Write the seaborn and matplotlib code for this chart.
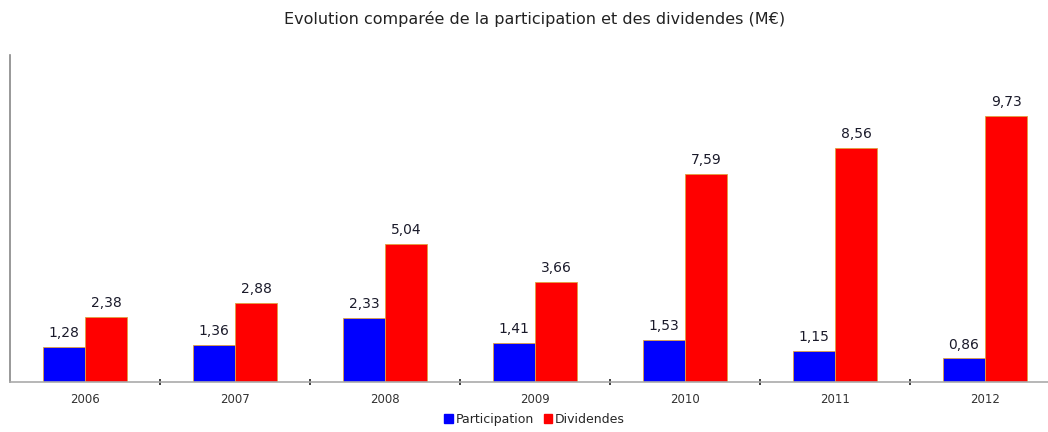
import pandas as pd
import seaborn as sns
import matplotlib.pyplot as plt
from matplotlib.ticker import FixedLocator

# données (M€)
annees = ["2006", "2007", "2008", "2009", "2010", "2011", "2012"]
participation = [1.28, 1.36, 2.33, 1.41, 1.53, 1.15, 0.86]
dividendes = [2.38, 2.88, 5.04, 3.66, 7.59, 8.56, 9.73]
series = ["Participation", "Dividendes"]
couleurs = ["#0000ff", "#ff0000"]

df = pd.DataFrame({
    "annee": annees * 2,
    "serie": [series[0]] * len(annees) + [series[1]] * len(annees),
    "valeur": participation + dividendes,
})

sns.set_style("white")
plt.rcParams["font.family"] = ["DejaVu Sans"]

fig = plt.figure(figsize=(10.48, 4.32), dpi=100)
ax = fig.add_axes([10 / 1048, 50 / 432, 1050 / 1048, 327 / 432])

sns.barplot(data=df, x="annee", y="valeur", hue="serie", palette=couleurs,
            width=0.56, edgecolor="#e0a040", linewidth=0.6, ax=ax,
            legend=False, saturation=1)

# étiquettes de valeurs
for cont in ax.containers:
    labels = [f"{v:.2f}".replace(".", ",") for v in cont.datavalues]
    ax.bar_label(cont, labels=labels, padding=5, fontsize=10, color="#1a1a2a")

ax.set_ylim(0, 11.95)
ax.set_xlim(-0.5, len(annees) - 0.5)
ax.set_xlabel("")
ax.set_ylabel("")
ax.set_yticks([])
ax.tick_params(axis="x", length=0, labelsize=8.5, colors="#333333", pad=8)
ax.xaxis.set_minor_locator(FixedLocator([i + 0.5 for i in range(len(annees) - 1)]))
ax.tick_params(axis="x", which="minor", bottom=True, length=4, width=1.2,
               color="#222222", direction="inout")
for s in ["top", "right"]:
    ax.spines[s].set_visible(False)
ax.spines["left"].set_color("#888888")
ax.spines["bottom"].set_color("#aaaaaa")
ax.spines["left"].set_linewidth(1.2)
ax.spines["bottom"].set_linewidth(1.2)

fig.suptitle("Evolution comparée de la participation et des dividendes (M€)",
             x=0.51, y=0.975, fontsize=11.5, color="#222222")

handles = [plt.Rectangle((0, 0), 1, 1, color=c) for c in couleurs]
fig.legend(handles, series, loc="lower center", bbox_to_anchor=(0.51, -0.012),
           ncol=2, frameon=False, fontsize=9, handlelength=0.7, handleheight=0.7,
           handletextpad=0.2, columnspacing=0.8)

fig.savefig("out.png", dpi=100)
